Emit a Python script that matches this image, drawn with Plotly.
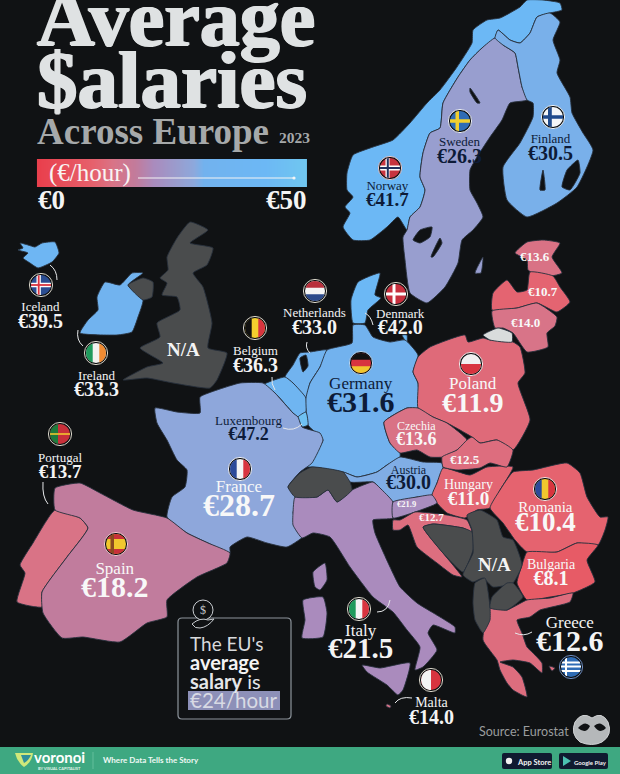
import numpy as np
import plotly.graph_objects as go
from plotly.colors import sample_colorscale

# salaries, euro per hour
countries = ["Norway", "Sweden", "Finland", "Iceland", "Ireland", "Netherlands", "Denmark",
             "Belgium", "Germany", "Poland", "Luxembourg", "France", "Czechia", "Portugal",
             "Spain", "Austria", "Hungary", "Romania", "Bulgaria", "Italy", "Greece", "Malta",
             "Estonia", "Latvia", "Lithuania", "Slovakia", "Slovenia", "Croatia"]
salaries = [41.7, 26.3, 30.5, 39.5, 33.3, 33.0, 42.0,
            36.3, 31.6, 11.9, 47.2, 28.7, 13.6, 13.7,
            18.2, 30.0, 11.0, 10.4, 8.1, 21.5, 12.6, 14.0,
            13.6, 10.7, 14.0, 12.5, 21.9, 12.7]
legend_scale = list(range(0, 51))

# outlines, one list of parts per country
outlines = {
    "Norway": [[(343,227),(350,213),(345,207),(353,197),(347,190),(347,173),(353,155),(373,147),(393,140),(410,123),(427,103),(440,90),(457,67),(472,43),(473,30),(487,20),(500,18),(520,7),(527,0),(543,0),(560,3),(562,10),(550,13),(537,17),(530,33),(520,43),(510,40),(498,30),(495,38),(482,48),(470,60),(458,77),(443,103),(440,128),(430,133),(423,153),(420,177),(425,190),(420,207),(410,217),(407,230),(398,217),(387,227),(370,240),(353,240)]],
    "Sweden": [[(495,38),(503,45),(515,53),(518,67),(522,87),(527,100),(510,103),(502,120),(490,137),(477,157),(470,170),(470,190),(477,203),(483,217),(473,230),(462,240),(458,263),(445,287),(427,303),(410,293),(405,260),(403,237),(407,230),(410,217),(420,207),(425,190),(420,177),(423,153),(430,133),(440,128),(443,103),(458,77),(470,60),(482,48)],
               [(475,273),(483,257),(481,273)]],
    "Finland": [[(498,30),(510,40),(520,43),(530,33),(537,17),(550,13),(560,22),(553,40),(560,60),(557,73),(570,97),(572,113),(583,133),(593,150),(577,187),(557,203),(527,217),(507,200),(503,167),(520,143),(533,117),(533,103),(527,100),(522,87),(518,67),(515,53),(503,45),(495,38)]],
    "Iceland": [[(18,250),(23,248),(20,243),(28,245),(35,247),(42,243),(55,242),(59,253),(52,262),(38,268),(30,263),(23,258),(28,253)]],
    "Ireland": [[(80,333),(88,320),(98,310),(97,297),(105,282),(120,285),(132,273),(143,273),(128,285),(143,300),(138,317),(132,332),(117,335)]],
    "Netherlands": [[(285,377),(293,365),(300,353),(310,352),(327,350),(320,367),(310,383),(306,398),(293,383)]],
    "Denmark": [[(353,323),(351,300),(358,282),(380,273),(375,295),(381,298),(368,310),(365,323)],
                [(402,335),(407,335),(407,343)]],
    "Belgium": [[(263,385),(285,377),(293,383),(306,398),(306,412),(298,417),(293,413),(275,393)]],
    "Germany": [[(327,350),(352,343),(353,325),(365,325),(373,337),(390,342),(405,340),(418,355),(413,372),(418,383),(418,408),(407,408),(384,422),(390,443),(400,453),(400,457),(387,465),(377,472),(357,477),(343,472),(312,467),(303,467),(312,457),(323,440),(308,425),(306,398),(310,383),(320,367)]],
    "Poland": [[(418,357),(430,347),(465,335),(468,342),(483,338),(490,340),(513,342),(520,347),(525,373),(518,383),(530,420),(513,450),(497,440),(480,443),(472,437),(460,430),(447,423),(433,417),(418,408),(418,383),(413,372)]],
    "Luxembourg": [[(298,417),(306,412),(308,425),(302,427)]],
    "France": [[(155,408),(177,412),(200,413),(200,397),(217,390),(240,383),(263,383),(275,393),(293,413),(298,417),(302,427),(320,433),(323,440),(312,463),(300,472),(288,487),(298,498),(293,513),(307,533),(287,547),(267,543),(247,537),(230,547),(230,553),(208,543),(187,533),(167,517),(172,497),(185,487),(187,470),(177,460),(167,440),(157,423)]],
    "Czechia": [[(384,422),(407,408),(418,408),(433,417),(447,423),(467,440),(457,450),(443,457),(430,457),(417,450),(400,453),(390,443)]],
    "Portugal": [[(55,510),(80,518),(88,528),(67,557),(42,592),(42,607),(17,602),(25,573),(20,565),(33,543)]],
    "Spain": [[(55,488),(80,483),(100,493),(133,510),(167,518),(187,533),(208,543),(230,553),(227,563),(197,577),(167,600),(167,617),(147,623),(120,642),(83,637),(62,638),(43,613),(42,592),(67,557),(88,528),(80,518),(55,510)]],
    "Austria": [[(343,472),(357,477),(377,472),(387,465),(400,457),(423,462),(442,463),(443,468),(437,483),(432,495),(417,497),(393,502),(380,488),(373,482),(350,482)]],
    "Hungary": [[(443,468),(470,475),(487,467),(513,467),(500,490),(490,508),(477,510),(465,518),(447,513),(437,503),(432,495),(437,483)]],
    "Romania": [[(513,472),(533,470),(567,463),(580,473),(587,497),(600,517),(608,517),(605,530),(598,545),(577,543),(557,552),(527,552),(515,540),(503,523),(490,508),(500,490)]],
    "Bulgaria": [[(527,552),(557,552),(577,543),(598,545),(587,560),(595,582),(573,593),(550,597),(527,600),(517,583),(522,565)]],
    "Italy": [[(295,497),(317,497),(328,490),(337,502),(352,490),(373,482),(380,488),(393,502),(393,518),(373,520),(375,533),(390,567),(400,587),(417,603),(440,617),(455,627),(455,633),(433,625),(428,633),(437,650),(423,667),(415,670),(420,647),(407,630),(393,612),(373,597),(350,567),(330,537),(313,533),(302,538),(293,525),(293,513)],
              [(362,665),(380,668),(410,663),(403,690),(398,695),(387,685),(367,672)],
              [(303,600),(323,597),(327,613),(323,637),(302,638),(305,620)],
              [(313,572),(325,563),(327,580),(320,590),(315,587)]],
    "Greece": [[(490,608),(507,610),(527,600),(550,598),(573,593),(570,602),(540,610),(530,617),(517,620),(522,633),(527,647),(533,653),(542,663),(542,673),(530,663),(513,660),(500,662),(513,667),(522,677),(527,697),(513,690),(507,683),(500,670),(497,660),(483,640)],
               [(549,666),(555,668),(552,671)]],
    "Malta": [[(387,704),(391,706),(390,708),(386,706)]],
    "Estonia": [[(515,253),(527,242),(543,240),(560,243),(552,257),(562,273),(543,277),(528,270),(527,260)]],
    "Latvia": [[(492,310),(493,293),(507,280),(517,292),(527,290),(530,272),(553,276),(560,287),(570,302),(557,312),(537,303),(517,308)]],
    "Lithuania": [[(492,311),(517,308),(537,303),(557,317),(555,326),(547,333),(548,347),(527,352),(513,333),(503,328),(495,328)]],
    "Slovakia": [[(442,457),(457,450),(467,440),(472,437),(480,443),(497,440),(513,450),(507,467),(490,463),(480,468),(457,470),(443,467)]],
    "Slovenia": [[(393,502),(417,497),(432,495),(437,503),(415,512),(393,518)]],
    "Croatia": [[(393,520),(400,520),(415,512),(447,515),(467,520),(472,532),(463,528),(433,524),(423,527),(443,553),(462,577),(453,575),(437,563),(417,547),(408,525),(400,530),(393,530)]],
}
no_data = {
    "United Kingdom": [[(190,222),(208,230),(190,243),(213,248),(207,265),(193,273),(203,287),(212,323),(208,348),(227,353),(217,380),(210,388),(173,383),(147,378),(123,380),(147,367),(163,363),(140,348),(160,337),(157,323),(180,310),(177,297),(162,295),(167,283),(160,278),(168,270),(167,257),(177,238)],
                       [(128,285),(143,278),(153,282),(152,297),(143,300)]],
    "Switzerland": [[(288,487),(300,473),(312,467),(343,472),(350,482),(352,490),(337,502),(328,490),(317,497),(295,497)]],
    "Bosnia": [[(423,527),(433,524),(463,528),(472,532),(473,550),(463,572),(443,553)]],
    "Serbia": [[(467,515),(480,510),(497,520),(503,537),(513,540),(522,565),(513,583),(493,587),(483,578),(473,582),(463,575),(473,553),(472,530)]],
    "Albania": [[(475,583),(485,578),(490,607),(490,620),(483,633),(475,620),(473,603)]],
    "Macedonia": [[(492,597),(507,583),(513,583),(523,597),(507,610),(490,608)]],
}
kaliningrad = [[(483,335),(498,328),(512,333),(512,342),(490,340)]]
lakes = [[(413,240),(420,230),(432,227),(430,237),(420,243)],
         [(431,257),(440,238),(442,243),(433,257)],
         [(470,88),(480,103),(477,103),(470,92)],
         [(540,190),(543,170),(545,190)],
         [(562,187),(567,170),(578,160),(580,173),(570,190)],
         [(300,358),(306,355),(308,366),(303,372)]]

BG = "#101214"
SERIF = "Liberation Serif"
SANS = "Lato"
DARK = "#0d1b38"
SCALE = [[0, "#e9404d"], [0.2, "#e6616c"], [0.28, "#d87488"], [0.36, "#c27b9b"], [0.43, "#aa8bbd"],
         [0.53, "#979fd0"], [0.58, "#8da8dc"], [0.62, "#72b2ee"], [0.85, "#6cb8f5"], [1, "#70c6f0"]]


def region(parts, color, name):
    xs, ys = [], []
    for part in parts:
        xs += [p[0] for p in part] + [part[0][0], None]
        ys += [p[1] for p in part] + [part[0][1], None]
    return go.Scatter(x=xs, y=ys, mode="lines", fill="toself", fillcolor=color, name=name,
                      line=dict(color="#27303c", width=0.9, shape="spline", smoothing=0.45),
                      hoverinfo="name", showlegend=False)


fig = go.Figure()
colors = sample_colorscale(SCALE, [v / 50 for v in salaries])
for c, col in zip(countries, colors):
    fig.add_trace(region(outlines[c], col, c))
for c, parts in no_data.items():
    fig.add_trace(region(parts, "#4a4c4d", c))
fig.add_trace(region(kaliningrad, "#d9dcdc", "Kaliningrad"))
fig.add_trace(region(lakes, BG, "water"))

# legend bar
fig.add_trace(go.Heatmap(z=[legend_scale], x0=39.6, dx=270 / 51, y0=173, dy=28, colorscale=SCALE,
                         zmin=0, zmax=50, showscale=False, zsmooth="best", hoverinfo="skip"))

shapes = []


def path_shape(d, fill=None, line=None, width=1):
    shapes.append(dict(type="path", path=d, xref="x", yref="y",
                       fillcolor=fill if fill else "rgba(0,0,0,0)",
                       line=dict(color=line if line else "rgba(0,0,0,0)", width=width)))


def disc(cx, cy, r, fill, line=None, width=1):
    shapes.append(dict(type="circle", xref="x", yref="y", x0=cx - r, x1=cx + r, y0=cy - r, y1=cy + r,
                       fillcolor=fill, line=dict(color=line if line else "rgba(0,0,0,0)", width=width)))


def band(cx, cy, r, a, b, color, horizontal=False):
    # a stripe of the flag, clipped to the circle
    t = np.linspace(a, b, 14)
    h = np.sqrt(np.maximum(r * r - t * t, 0))
    if horizontal:
        pts = [(cx + v, cy + u) for u, v in zip(t, h)] + [(cx - v, cy + u) for u, v in zip(t[::-1], h[::-1])]
    else:
        pts = [(cx + u, cy - v) for u, v in zip(t, h)] + [(cx + u, cy + v) for u, v in zip(t[::-1], h[::-1])]
    path_shape("M " + " L ".join(f"{x:.1f},{y:.1f}" for x, y in pts) + " Z", fill=color)


def flag(cx, cy, base, stripes=(), ring="#d8d4c8", r=10):
    disc(cx, cy, r + 1.6, BG, line=ring, width=1)
    disc(cx, cy, r, base)
    for a, b, color, horiz in stripes:
        band(cx, cy, r, a * r, b * r, color, horiz)


H, V = True, False
flag(390, 168, "#c8343f", [(-.45, -.05, "#fff", V), (-.25, .25, "#fff", H), (-.32, -.12, "#22305e", V), (-.1, .1, "#22305e", H)], ring="#e8c8cc")
flag(460, 121, "#2f6cb5", [(-.45, -.1, "#f2cf2e", V), (-.18, .18, "#f2cf2e", H)], ring="#e8ecf4")
flag(553, 117, "#f4f6f8", [(-.5, -.12, "#1f4a8c", V), (-.18, .18, "#1f4a8c", H)], ring="#eaf2fa")
flag(41, 285, "#2a4d92", [(-.45, -.02, "#fff", V), (-.22, .22, "#fff", H), (-.32, -.14, "#d8343f", V), (-.09, .09, "#d8343f", H)])
flag(96, 353, "#f2f2f0", [(-1, -.33, "#1f9a5c", V), (.33, 1, "#ef8a32", V)])
flag(315, 291, "#f4f4f4", [(-1, -.33, "#b8303c", H), (.33, 1, "#2c4a8a", H)])
flag(396, 294, "#c72f3d", [(-.35, -.05, "#fff", V), (-.14, .14, "#fff", H)])
flag(255, 328, "#f3cf2e", [(-1, -.33, "#111", V), (.33, 1, "#d8343f", V)])
flag(361, 363, "#d8343f", [(-1, -.33, "#111", H), (.33, 1, "#f1c72e", H)], ring="#b8d4f0")
flag(471, 364, "#f0f0f0", [(0, 1, "#d8343f", H)], ring="#f4e8e8")
flag(60, 434, "#c8303a", [(-1, -.2, "#1f7a3c", V), (-.08, .08, "#f1c72e", H)])
flag(240, 469, "#f4f4f4", [(-1, -.33, "#2c4a9a", V), (.33, 1, "#d8343f", V)], ring="#f0f2fa")
flag(116, 544, "#f1c72e", [(-1, -.5, "#c8303a", H), (.5, 1, "#c8303a", H), (-.55, -.2, "#8a4a20", V)], ring="#f4c8d0")
flag(545, 489, "#f1c72e", [(-1, -.33, "#2c4a9a", V), (.33, 1, "#d8343f", V)], ring="#f4dcdc")
flag(359, 609, "#f4f4f4", [(-1, -.33, "#1f9a5c", V), (.33, 1, "#d8343f", V)])
flag(431, 680, "#d8343f", [(-1, 0, "#f4f4f4", V)])
flag(571, 667, "#2f6cb5", [(-.55, -.35, "#fff", H), (-.15, .05, "#fff", H), (.3, .5, "#fff", H), (-.6, -.4, "#fff", V)], ring="#6c8cc0")

# leader lines
for x0, y0, qx, qy, x1, y1 in [(50, 265, 57, 270, 57, 280), (78, 330, 76, 340, 83, 346), (43, 482, 42, 497, 48, 504),
                               (307, 342, 305, 348, 310, 353), (365, 313, 371, 316, 373, 325), (272, 377, 271, 384, 275, 390),
                               (283, 428, 294, 432, 302, 424), (377, 612, 388, 612, 390, 600), (412, 698, 400, 696, 395, 703),
                               (532, 632, 524, 637, 515, 633)]:
    path_shape(f"M {x0},{y0} Q {qx},{qy} {x1},{y1}", line="#e6e8ea", width=1)

# legend arrow
shapes.append(dict(type="line", xref="x", yref="y", x0=138, x1=294, y0=178, y1=178, line=dict(color="#f4f4f4", width=1.2)))
disc(294, 178, 1.6, "#f4f4f4")

# EU callout
path_shape("M 182,618 L 287,618 Q 291,618 291,622 L 291,715 Q 291,719 287,719 L 182,719 Q 178,719 178,715 L 178,622 Q 178,618 182,618 Z",
           fill=BG, line="#8d949c", width=1.2)
shapes.append(dict(type="rect", xref="x", yref="y", x0=188, x1=280, y0=691, y1=710, fillcolor="#8d90b8", line=dict(width=0)))
disc(203, 610, 10, BG, line="#c8ccd0", width=1)
path_shape("M 192,624 Q 200,617 208,620 L 214,619 Q 208,627 200,628 Q 195,629 192,624 Z", fill=BG, line="#c8ccd0", width=1)

# footer
shapes.append(dict(type="rect", xref="x", yref="y", x0=0, x1=620, y0=747, y1=774, fillcolor="#3ea881", line=dict(width=0)))
shapes.append(dict(type="line", xref="x", yref="y", x0=93, x1=93, y0=752, y1=769, line=dict(color="#6cc4a2", width=0.8)))
path_shape("M 15,753 L 33,753 Q 32,762 24,767 Q 17,762 15,753 Z", fill="#cfe87a")
path_shape("M 21,755 L 31,755 Q 29,760 24,763 Z", fill="#2f8f9a")
for x0, x1 in [(502, 552), (559, 608)]:
    path_shape(f"M {x0+2},753 L {x1-2},753 Q {x1},753 {x1},755 L {x1},767 Q {x1},769 {x1-2},769 L {x0+2},769 Q {x0},769 {x0},767 L {x0},755 Q {x0},753 {x0+2},753 Z",
               fill="#101a30")
disc(509, 761, 3.2, "#f0f0f0")
path_shape("M 563,756 L 571,761 L 563,766 Z", fill="#4cc0b0")

# mask logo
path_shape("M 592,718 Q 602,711 608,722 Q 613,735 602,742 Q 592,747 580,742 Q 570,734 575,722 Q 582,711 592,718 Z",
           fill="#b5b8ba", line="#d0d2d4", width=1)
path_shape("M 578,728 Q 585,720 590,726 Q 586,735 578,728 Z", fill=BG)
path_shape("M 594,726 Q 600,720 606,728 Q 600,735 594,726 Z", fill=BG)

annotations = []


def label(text, x, y, size, color="#f4f4f4", bold=False, family=SERIF, anchor="center", shadow=None):
    font = dict(family=family, size=size, color=color, weight=700 if bold else 400)
    if shadow:
        font["shadow"] = shadow
    annotations.append(dict(text=text, x=x, y=y, xref="x", yref="y", showarrow=False, xanchor=anchor,
                            yanchor="middle", font=font, borderpad=0))


# x, name_y, name_size, value_y, value_size, color; name_y None = value only
label_spots = {
    "Norway": (387, 185, 13, 199, 19, DARK), "Sweden": (459, 141, 13, 156, 20, DARK),
    "Finland": (550, 138, 13, 153, 20, DARK), "Iceland": (40, 306, 13, 321, 20, "#f4f4f4"),
    "Ireland": (96, 375, 13, 389, 20, "#f4f4f4"), "Netherlands": (314, 312, 13, 327, 20, "#f4f4f4"),
    "Denmark": (400, 313, 13, 327, 20, "#f4f4f4"), "Belgium": (255, 350, 13, 365, 20, "#f4f4f4"),
    "Germany": (361, 383, 17, 402, 30, DARK), "Poland": (472, 384, 17, 403, 28, "#f8f8f8"),
    "Luxembourg": (248, 420, 13, 433, 18, DARK), "France": (239, 487, 17, 506, 32, "#f8f8f8"),
    "Czechia": (416, 426, 12, 439, 18, "#f8f8f8"), "Portugal": (60, 457, 13, 471, 19, "#f4f4f4"),
    "Spain": (115, 568, 17, 587, 30, "#f8f8f8"), "Austria": (408, 470, 12, 482, 20, DARK),
    "Hungary": (468, 484, 14, 498, 19, "#f8f8f8"), "Romania": (545, 508, 15, 523, 27, "#f8f8f8"),
    "Bulgaria": (551, 564, 14, 578, 20, "#f8f8f8"), "Italy": (360, 631, 17, 649, 29, "#f4f4f4"),
    "Greece": (570, 622, 17, 641, 30, "#f4f4f4"), "Malta": (431, 702, 14, 717, 20, "#f4f4f4"),
    "Estonia": (535, None, 0, 256, 13, "#f8f8f8"), "Latvia": (543, None, 0, 291, 13, "#f8f8f8"),
    "Lithuania": (525, None, 0, 322, 13, "#f8f8f8"), "Slovakia": (465, None, 0, 459, 13, "#f8f8f8"),
    "Slovenia": (406, None, 0, 504, 8.5, "#f8f8f8"), "Croatia": (431, None, 0, 517, 11, "#f8f8f8"),
}
for c, v in zip(countries, salaries):
    x, ny, ns, vy, vs, col = label_spots[c]
    if ny is None:
        label(f"€{v:.1f}", x, vy, vs, col, bold=True)
    else:
        # name and value as one two-line text, the base size sets the line gap
        gap = (vy - ny) + 0.33 * (vs - ns)
        text = (f'<span style="font-size:{ns}px">{c}</span><br>'
                f'<span style="font-size:{vs}px;font-weight:700">€{v:.1f}</span>')
        label(text, x, (ny + vy) / 2 + 0.1 * vs, gap / 1.3, col)

label("N/A", 183, 349, 19, bold=True)
label("N/A", 494, 564, 19, bold=True)

# title
fat = "1px 0 0 #dfe2e3, -1px 0 0 #dfe2e3, 0 1px 0 #dfe2e3"
label("Average", 36, 18, 80, "#dfe2e3", bold=True, anchor="left", shadow=fat)
label("$alaries", 36, 80, 81, "#dfe2e3", bold=True, anchor="left", shadow=fat)
label("Across Europe", 36, 131, 37, "#a6a9aa", bold=True, anchor="left")
label("2023", 278, 137, 15.5, "#a6a9aa", bold=True, anchor="left")
label("(€/hour)", 48, 173, 25, "#f8f4f4", anchor="left")
label("€0", 37, 200, 27, bold=True, anchor="left")
label("€50", 308, 200, 27, bold=True, anchor="right")

# callout text
label("The EU's", 189, 643, 19, "#d8dadc", family=SANS, anchor="left")
label("average", 189, 662, 20, "#f4f4f4", bold=True, family=SANS, anchor="left")
label("<b>salary</b> is", 189, 681, 20, "#e4e6e8", family=SANS, anchor="left")
label("€24/hour", 189, 700, 20.5, "#d8dae4", family=SANS, anchor="left")
label("$", 203, 610, 12, "#c8ccd0", family=SERIF)

# footer text
label("Source: Eurostat", 478, 731, 12.5, "#9a9d9e", family=SANS, anchor="left")
label("voronoi", 33, 757, 15, "#ffffff", bold=True, family=SANS, anchor="left")
label("BY VISUAL CAPITALIST", 37, 768, 4, "#e4f4ec", bold=True, family=SANS, anchor="left")
label("Where Data Tells the Story", 102, 760, 8, "#eef8f4", bold=True, family=SANS, anchor="left")
label("App Store", 516, 762, 7.5, "#f4f4f4", bold=True, family=SANS, anchor="left")
label("Google Play", 573, 762, 6, "#f4f4f4", bold=True, family=SANS, anchor="left")

fig.update_layout(
    width=620,
    height=774,
    margin=dict(l=0, r=0, t=0, b=0),
    plot_bgcolor=BG,
    paper_bgcolor=BG,
    xaxis=dict(range=[0, 620], visible=False, fixedrange=True),
    yaxis=dict(range=[774, 0], visible=False, fixedrange=True),
    shapes=shapes,
    annotations=annotations,
    showlegend=False,
)

fig.write_html("out.html", config=dict(displayModeBar=False), post_script="document.body.style.margin='0';document.body.style.background='#101214';")
